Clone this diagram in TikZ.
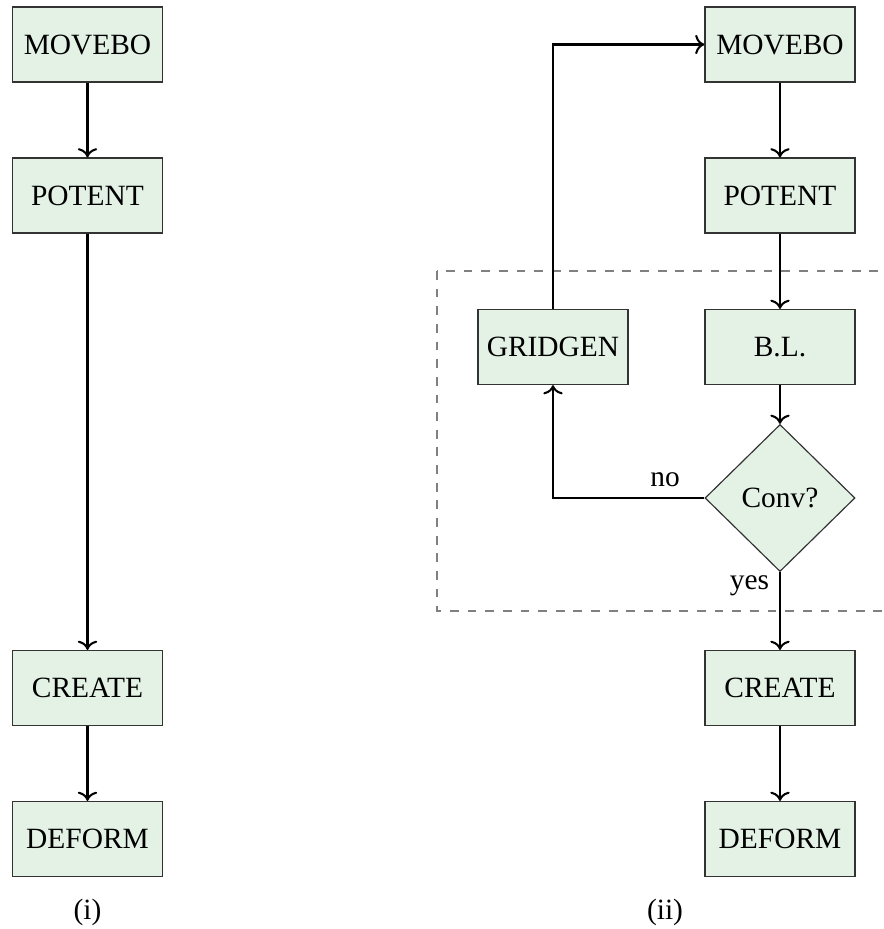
\documentclass[tikz,border=0pt]{standalone}
\usepackage{fontspec}
\setmainfont{Liberation Serif}
\usetikzlibrary{shapes.geometric}
\usetikzlibrary{arrows.meta}
\definecolor{boxgreen}{RGB}{228,242,230}

\begin{document}
\begin{tikzpicture}[x=0.34pt,y=-0.34pt,
    box/.style={draw=black!80,fill=boxgreen,minimum width=51pt,minimum height=25.5pt,inner sep=0pt},
    cond/.style={diamond,draw=black!80,fill=boxgreen,minimum width=51pt,minimum height=50pt,inner sep=0pt},
    flow/.style={line width=0.7pt,-{To}}]
            \useasboundingbox (0,0) rectangle (883,929);
            % (i)
            \node[box] (movl) at (87.5,44.5) {MOVEBO};
            \node[box] (potl) at (87.5,195.5) {POTENT};
            \node[box] (crel) at (87.5,688) {CREATE};
            \node[box] (defl) at (87.5,839) {DEFORM};
            \node (capl) at (87.5,912) {(i)};
            \draw[flow] (movl)--(potl);
            \draw[flow] (potl)--(crel);
            \draw[flow] (crel)--(defl);
            % (ii)
            \draw[gray,dashed,line width=0.6pt] (437,271) rectangle (900,611);
            \node[box] (movr) at (780,44.5) {MOVEBO};
            \node[box] (potr) at (780,195.5) {POTENT};
            \node[box] (blr) at (780,347) {B.L.};
            \node[box] (grid) at (553,347) {GRIDGEN};
            \node[cond] (conv) at (780,498) {Conv?};
            \node[box] (crer) at (780,688) {CREATE};
            \node[box] (defr) at (780,839) {DEFORM};
            \node (capr) at (665,912) {(ii)};
            \draw[flow] (movr)--(potr);
            \draw[flow] (potr)--(blr);
            \draw[flow] (blr)--(conv);
            \draw[flow] (conv.west) -| node[above,pos=0.13] {no} (grid.south);
            \draw[flow] (grid.north) |- (movr.west);
            \draw[flow] (conv)-- node[left,pos=0.17] {yes} (crer);
            \draw[flow] (crer)--(defr);
        \end{tikzpicture}
\end{document}
